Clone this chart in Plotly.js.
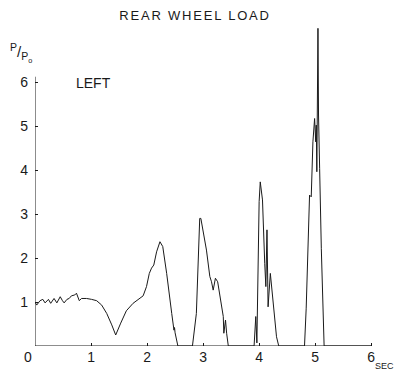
<!DOCTYPE html>
<html>
<head>
<meta charset="utf-8">
<script src="https://cdn.plot.ly/plotly-3.0.1.min.js"></script>
<style>
  html, body { margin: 0; padding: 0; background: #fff; }
  #chart { width: 397px; height: 371px; }
  .gtitle { letter-spacing: 1.8px; }
</style>
</head>
<body>
<div id="chart"></div>
<script>
// Time (sec) and rear wheel load ratio P/Po
const timeSec = [
  0.00, 0.03, 0.09, 0.14, 0.18, 0.24, 0.28, 0.34, 0.39, 0.45,
  0.49, 0.52, 0.57, 0.61, 0.65, 0.71, 0.74, 0.79, 0.83, 0.92,
  1.01, 1.10, 1.19, 1.28, 1.37, 1.44, 1.53, 1.63, 1.75, 1.87,
  1.93, 1.99, 2.04, 2.08, 2.12, 2.17, 2.23, 2.28, 2.35, 2.44,
  2.47, 2.48, 2.49, 2.50, 2.55, 2.81, 2.88, 2.92, 2.94, 2.92,
  2.94, 2.96, 3.00, 3.06, 3.12, 3.15, 3.18, 3.22, 3.26, 3.30,
  3.36, 3.37, 3.40, 3.42, 3.45, 3.91, 3.94, 3.96, 4.00, 4.02,
  4.06, 4.10, 4.12, 4.14, 4.16, 4.20, 4.24, 4.26, 4.31, 4.35,
  4.81, 4.84, 4.87, 4.90, 4.93, 4.96, 4.99, 5.01, 5.02, 5.03,
  5.05, 5.06, 5.08, 5.11, 5.16, 6.00
];
const loadRatio = [
  1.00, 0.93, 1.03, 1.06, 0.98, 1.06, 0.97, 1.08, 0.98, 1.12,
  1.03, 0.98, 1.06, 1.08, 1.14, 1.16, 1.20, 1.03, 1.08, 1.08,
  1.06, 1.03, 0.93, 0.74, 0.48, 0.25, 0.52, 0.80, 0.97, 1.07,
  1.14, 1.35, 1.65, 1.77, 1.84, 2.14, 2.37, 2.26, 1.65, 0.74,
  0.44, 0.36, 0.42, 0.30, 0.00, 0.00, 0.74, 2.10, 2.86, 2.41,
  2.90, 2.90, 2.64, 2.18, 1.58, 1.46, 1.27, 1.54, 1.46, 1.12,
  0.67, 0.29, 0.59, 0.29, 0.00, 0.00, 0.67, 0.07, 3.28, 3.73,
  3.32, 1.88, 1.35, 2.64, 0.89, 1.65, 1.12, 0.82, 0.21, 0.00,
  0.00, 0.86, 2.21, 3.43, 3.39, 4.64, 5.17, 4.64, 5.02, 3.96,
  7.22, 5.25, 4.04, 2.21, 0.00, 0.00
];
const xTickVals = [1, 2, 3, 4, 5, 6];
const xTickText = ['1', '2', '3', '4', '5', '6'];
const yTickVals = [1, 2, 3, 4, 5, 6];
const yTickText = ['1', '2', '3', '4', '5', '6'];
const titleText = 'REAR WHEEL LOAD';
const yLabel = '<sup>P</sup>/<sub>P<sub>o</sub></sub>';
const xUnit = 'SEC';
const sideLabel = 'LEFT';
const originLabel = '0';
const yAxisTop = 6.12;
const xAxisEnd = 6;

const fontFam = '"Liberation Sans", Arial, sans-serif';
const ink = '#1a1a1a';

const trace = {
  x: timeSec,
  y: loadRatio,
  type: 'scatter',
  mode: 'lines',
  line: { color: ink, width: 1 },
  hoverinfo: 'skip',
  cliponaxis: false
};

const layout = {
  width: 397,
  height: 371,
  margin: { l: 35, r: 9, t: 16, b: 25 },
  paper_bgcolor: '#fff',
  plot_bgcolor: '#fff',
  showlegend: false,
  font: { family: fontFam, color: ink, size: 13 },
  title: {
    text: titleText,
    font: { family: fontFam, size: 13, color: ink },
    x: 195 / 397, xanchor: 'center', xref: 'container',
    y: 1 - 15 / 371, yanchor: 'middle', yref: 'container'
  },
  xaxis: {
    range: [0, 6.3],
    showgrid: false, zeroline: false, showline: false,
    tickmode: 'array', tickvals: xTickVals, ticktext: xTickText,
    ticks: 'inside', ticklen: 3, tickcolor: ink, tickwidth: 1,
    tickfont: { family: fontFam, size: 14, color: ink },
    ticklabelstandoff: 1,
    fixedrange: true
  },
  yaxis: {
    range: [0, 7.5],
    showgrid: false, zeroline: false, showline: false,
    tickmode: 'array', tickvals: yTickVals, ticktext: yTickText,
    ticks: 'inside', ticklen: 3, tickcolor: ink, tickwidth: 1,
    tickfont: { family: fontFam, size: 14, color: ink },
    ticklabelstandoff: 6,
    fixedrange: true
  },
  shapes: [
    { type: 'line', xref: 'x', yref: 'y', x0: 0, x1: 0, y0: 0, y1: yAxisTop,
      line: { color: ink, width: 1 } },
    { type: 'line', xref: 'x', yref: 'y', x0: 0, x1: xAxisEnd, y0: 0, y1: 0,
      line: { color: ink, width: 1 } }
  ],
  annotations: [
    { text: sideLabel, xref: 'x', yref: 'y', x: 1.05, y: 5.98, showarrow: false,
      font: { family: fontFam, size: 14, color: ink }, xanchor: 'center', yanchor: 'middle' },
    { text: yLabel, xref: 'paper', yref: 'paper', x: -27 / 353, xanchor: 'left',
      y: (330 - 53 + 16) / 330, yanchor: 'middle', showarrow: false,
      font: { family: fontFam, size: 15, color: ink } },
    { text: xUnit, xref: 'paper', yref: 'paper', x: 361 / 353, xanchor: 'right',
      y: -20 / 330, yanchor: 'middle', showarrow: false,
      font: { family: fontFam, size: 9, color: ink } },
    { text: originLabel, xref: 'paper', yref: 'paper', x: -7 / 353, xanchor: 'center',
      y: -11 / 330, yanchor: 'middle', showarrow: false,
      font: { family: fontFam, size: 14, color: ink } }
  ]
};

Plotly.newPlot('chart', [trace], layout, { displayModeBar: false, staticPlot: true });
</script>
</body>
</html>
